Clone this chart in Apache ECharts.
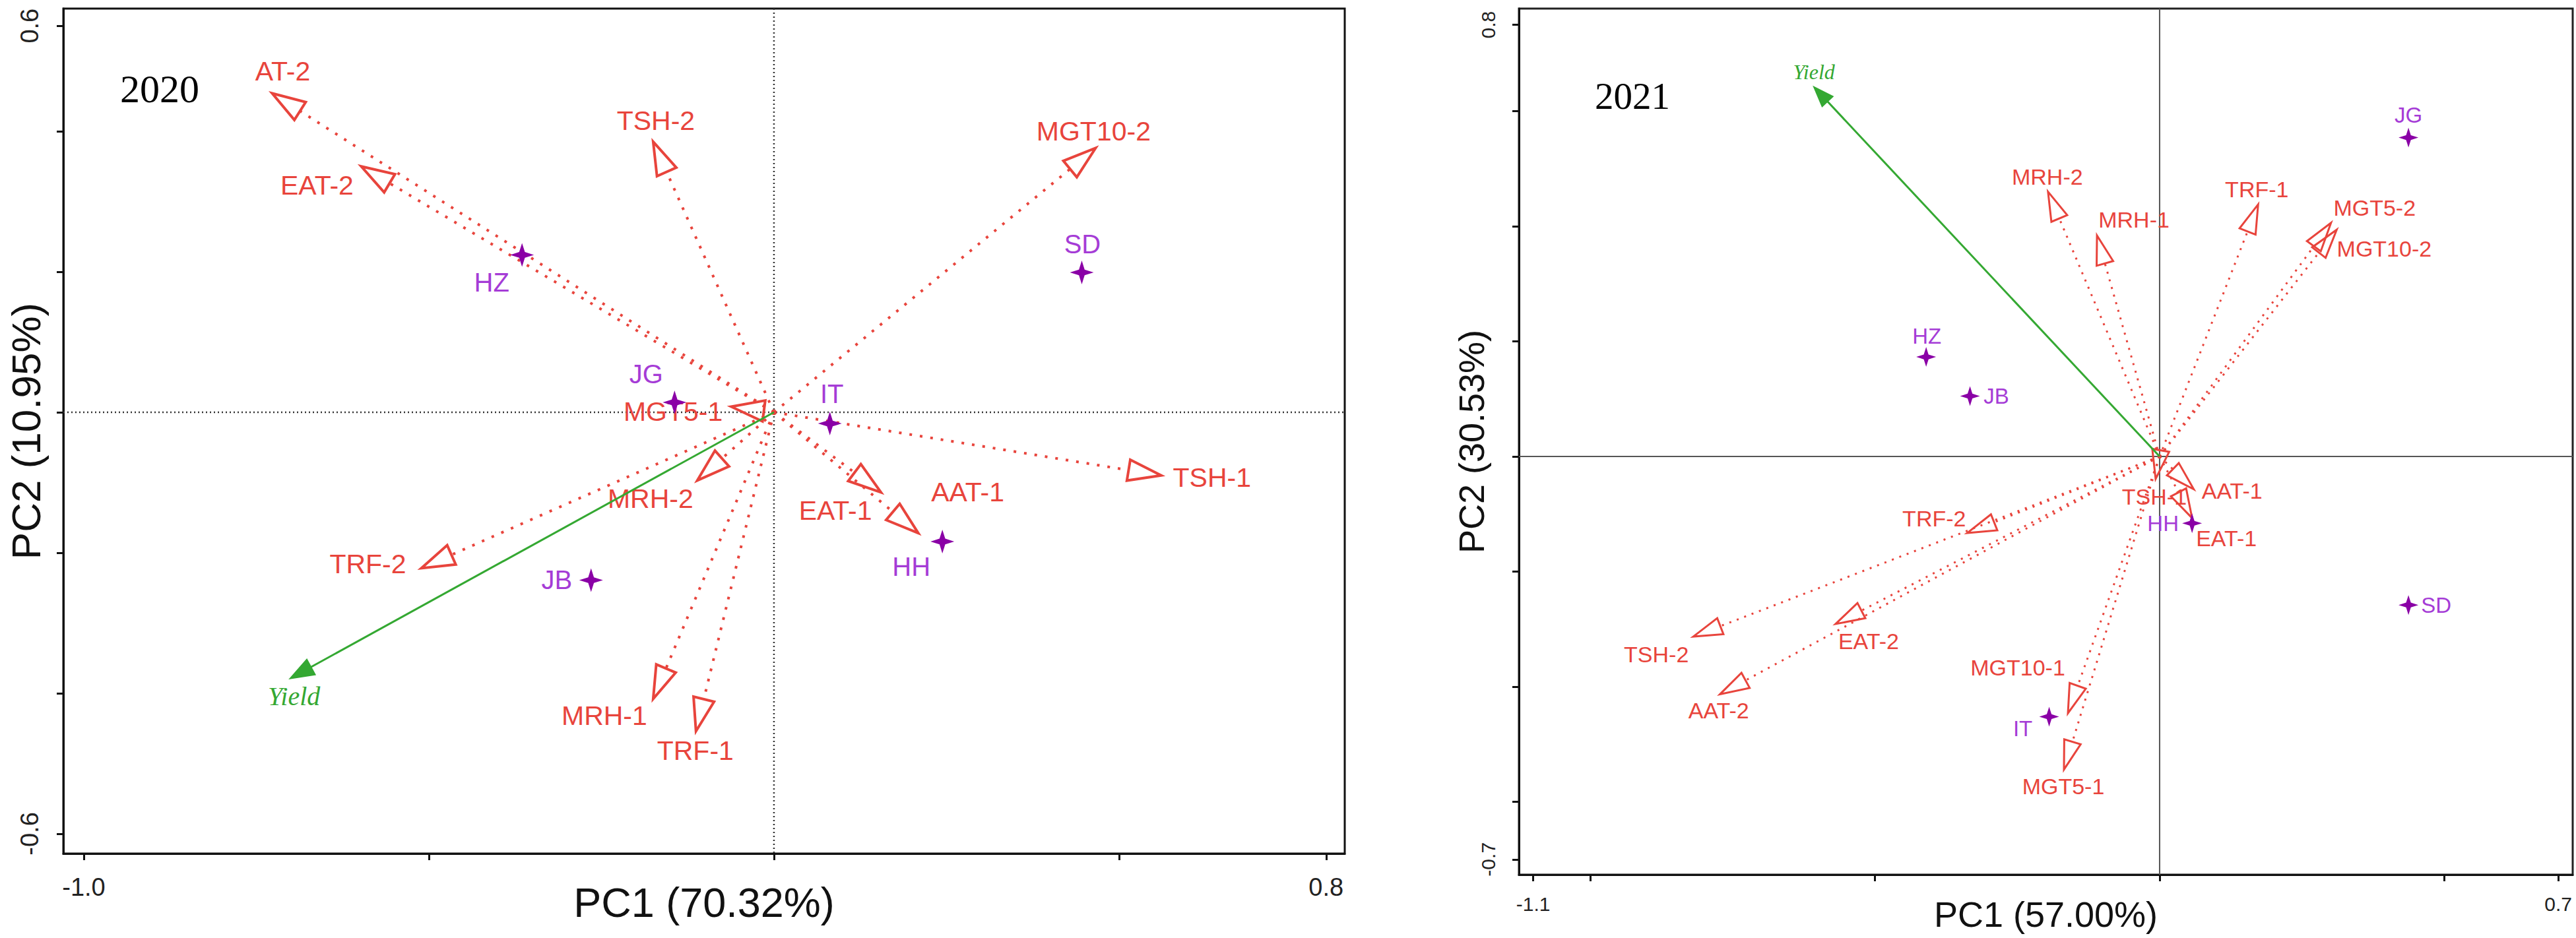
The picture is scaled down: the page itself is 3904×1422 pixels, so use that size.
<!DOCTYPE html>
<html>
<head>
<meta charset="utf-8">
<script src="https://cdn.jsdelivr.net/npm/echarts@6/dist/echarts.min.js"></script>
<style>
html, body { margin: 0; background: #fff; }
#pca { width: 3904px; height: 1422px; }
</style>
</head>
<body>
<div id="pca"></div>
<script>
// 2020 biplot
var vars2020 = ['AT-2', 'EAT-2', 'TSH-2', 'MGT10-2', 'MGT5-1', 'MRH-2', 'TRF-2', 'MRH-1', 'TRF-1', 'EAT-1', 'AAT-1', 'TSH-1'];
var pc1Vars2020 = [-0.727, -0.598, -0.175, 0.466, -0.062, -0.111, -0.511, -0.175, -0.113, 0.155, 0.209, 0.561];
var pc2Vars2020 = [0.454, 0.350, 0.385, 0.376, 0.008, -0.097, -0.222, -0.408, -0.454, -0.114, -0.172, -0.090];
var sites2020 = ['HZ', 'JG', 'IT', 'SD', 'HH', 'JB'];
var pc1Sites2020 = [-0.365, -0.144, 0.081, 0.446, 0.244, -0.265];
var pc2Sites2020 = [0.224, 0.014, -0.016, 0.199, -0.184, -0.239];
var yield2020 = [-0.701, -0.379];
var xTicks2020 = [-1.0, -0.5, 0, 0.5, 0.8];
var xLabels2020 = [-1.0, 0.8];
var yTicks2020 = [-0.6, -0.4, -0.2, 0, 0.2, 0.4, 0.55];
var yLabels2020 = [-0.6, 0.55];

// 2021 biplot
var vars2021 = ['MRH-2', 'MRH-1', 'TRF-1', 'MGT5-2', 'MGT10-2', 'TRF-2', 'TSH-2', 'EAT-2', 'AAT-2', 'AAT-1', 'TSH-1', 'EAT-1', 'MGT10-1', 'MGT5-1'];
var pc1Vars2021 = [-0.196, -0.110, 0.173, 0.301, 0.311, -0.338, -0.819, -0.569, -0.772, 0.060, -0.007, 0.057, -0.161, -0.168];
var pc2Vars2021 = [0.460, 0.384, 0.438, 0.406, 0.394, -0.133, -0.313, -0.291, -0.413, -0.057, -0.039, -0.107, -0.446, -0.544];
var sites2021 = ['JG', 'HZ', 'JB', 'HH', 'SD', 'IT'];
var pc1Sites2021 = [0.437, -0.410, -0.333, 0.057, 0.437, -0.194];
var pc2Sites2021 = [0.554, 0.173, 0.105, -0.116, -0.258, -0.452];
var yield2021 = [-0.607, 0.642];
var xTicks2021 = [-1.1, -1.0, -0.5, 0, 0.5, 0.7];
var xLabels2021 = [-1.1, 0.7];
var yTicks2021 = [-0.7, -0.6, -0.4, -0.2, 0, 0.2, 0.4, 0.6, 0.75];
var yLabels2021 = [-0.7, 0.75];

// label placement (pixel offsets from the arrow tip / point)
var lab2020 = {
    'AT-2': [16, -33], 'EAT-2': [-67, 29], 'TSH-2': [4, -32], 'MGT10-2': [-3, -26],
    'MGT5-1': [-88, 8], 'MRH-2': [-71, 28], 'TRF-2': [-81, -6], 'MRH-1': [-74, 26],
    'TRF-1': [-1, 30], 'EAT-1': [-69, 28], 'AAT-1': [75, -62], 'TSH-1': [77, 3], 'Yield': [6, 27],
    'HZ': [-46, 42], 'JG': [-43, -43], 'IT': [3, -45], 'SD': [1, -43], 'HH': [-47, 38], 'JB': [-52, 0]
};
var lab2021 = {
    'MRH-2': [-1, -23], 'MRH-1': [56, -24], 'TRF-1': [-2, -23], 'MGT5-2': [66, -23],
    'MGT10-2': [72, 29], 'TRF-2': [-50, -22], 'TSH-2': [-56, 27], 'EAT-2': [50, 26],
    'AAT-2': [-2, 25], 'AAT-1': [58, 2], 'TSH-1': [-2, 27], 'EAT-1': [52, 31],
    'MGT10-1': [-76, -69], 'MGT5-1': [-1, 25], 'Yield': [0, -23],
    'JG': [0, -34], 'HZ': [1, -32], 'JB': [40, 0], 'HH': [-44, 0], 'SD': [42, 0], 'IT': [-40, 18]
};

var RED = '#e8443c', PURPLE = '#8a00a6', PURPLE_TXT = '#a53cd6', GREEN = '#34a832';
var SANS = '"Liberation Sans", Arial, sans-serif';
var SERIF = '"Liberation Serif", "Times New Roman", serif';
var STAR = 'path://M0,-10 L2.4,-2.4 L10,0 L2.4,2.4 L0,10 L-2.4,2.4 L-10,0 L-2.4,-2.4 Z';

var fmt = function (v) { return Number(v).toFixed(1); };

// dotted vectors from the origin with a triangle head and a text label
function arrowSeries(gi, names, xs, ys, lab, cfg) {
    return {
        type: 'custom',
        xAxisIndex: gi,
        yAxisIndex: gi,
        z: 3,
        silent: true,
        data: names.map(function (n, i) { return [xs[i], ys[i]]; }),
        renderItem: function (params, api) {
            var o = api.coord([0, 0]);
            var p = api.coord([api.value(0), api.value(1)]);
            var dx = p[0] - o[0], dy = p[1] - o[1];
            var len = Math.sqrt(dx * dx + dy * dy) || 1;
            var ux = dx / len, uy = dy / len;
            var bx = p[0] - ux * cfg.head, by = p[1] - uy * cfg.head;
            var name = names[params.dataIndex];
            var off = lab[name] || [0, 0];
            return {
                type: 'group',
                children: [{
                    type: 'line',
                    shape: { x1: o[0], y1: o[1], x2: bx, y2: by },
                    style: { stroke: cfg.color, lineWidth: cfg.lw, lineDash: cfg.dash }
                }, {
                    type: 'polygon',
                    shape: { points: [[p[0], p[1]], [bx - uy * cfg.half, by + ux * cfg.half], [bx + uy * cfg.half, by - ux * cfg.half]] },
                    style: { stroke: cfg.color, fill: cfg.fill, lineWidth: cfg.headLw }
                }, {
                    type: 'text',
                    x: p[0] + off[0],
                    y: p[1] + off[1],
                    style: {
                        text: name, fill: cfg.textColor, fontSize: cfg.fontSize, fontFamily: cfg.font,
                        fontStyle: cfg.fontStyle || 'normal', align: 'center', verticalAlign: 'middle'
                    }
                }]
            };
        }
    };
}

function siteSeries(gi, names, xs, ys, lab, size, fontSize) {
    return {
        type: 'scatter',
        xAxisIndex: gi,
        yAxisIndex: gi,
        z: 4,
        silent: true,
        symbol: STAR,
        symbolSize: size,
        itemStyle: { color: PURPLE, opacity: 1 },
        label: { show: true, position: 'inside', formatter: '{b}', color: PURPLE_TXT, fontSize: fontSize, fontFamily: SANS },
        data: names.map(function (n, i) {
            return { name: n, value: [xs[i], ys[i]], label: { offset: lab[n] } };
        })
    };
}

function zeroSeries(gi, style) {
    return {
        type: 'custom',
        xAxisIndex: gi,
        yAxisIndex: gi,
        z: 1,
        silent: true,
        data: [[0, 0]],
        renderItem: function (params, api) {
            var cs = params.coordSys;
            var o = api.coord([0, 0]);
            return {
                type: 'group',
                children: [{
                    type: 'line',
                    shape: { x1: cs.x, y1: o[1], x2: cs.x + cs.width, y2: o[1] },
                    style: Object.assign({}, style)
                }, {
                    type: 'line',
                    shape: { x1: o[0], y1: cs.y, x2: o[0], y2: cs.y + cs.height },
                    style: Object.assign({}, style)
                }]
            };
        }
    };
}

function axis(gi, min, max, ticks, labels, name, o) {
    return {
        gridIndex: gi,
        type: 'value',
        min: min,
        max: max,
        splitLine: { show: false },
        axisLine: { show: true, onZero: false, lineStyle: { color: '#111', width: 3 } },
        axisTick: { show: true, customValues: ticks, length: 10, lineStyle: { color: '#111', width: 3 } },
        axisLabel: {
            show: true, customValues: labels, formatter: fmt, margin: o.margin, rotate: o.rotate || 0,
            fontSize: o.labSize, color: '#222', fontFamily: SANS
        },
        name: name,
        nameLocation: 'middle',
        nameGap: o.gap,
        nameMoveOverlap: false,
        nameTextStyle: { fontSize: o.nameSize, color: '#111', fontFamily: SANS }
    };
}

var chart = echarts.init(document.getElementById('pca'), null, { renderer: 'svg' });
chart.setOption({
    animation: false,
    backgroundColor: '#fff',
    grid: [
        { left: 96, top: 13, width: 1942, height: 1281, outerBoundsMode: 'none', containLabel: false,
          show: true, borderColor: '#111', borderWidth: 3 },
        { left: 2302, top: 13, width: 1597, height: 1313, outerBoundsMode: 'none', containLabel: false,
          show: true, borderColor: '#222', borderWidth: 3 }
    ],
    xAxis: [
        axis(0, -1.0296, 0.827, xTicks2020, xLabels2020, 'PC1 (70.32%)', { margin: 32, labSize: 38, gap: 42, nameSize: 63 }),
        axis(1, -1.1251, 0.7254, xTicks2021, xLabels2021, 'PC1 (57.00%)', { margin: 29, labSize: 30, gap: 33, nameSize: 54 })
    ],
    yAxis: [
        axis(0, -0.6282, 0.5746, yTicks2020, yLabels2020, 'PC2 (10.95%)', { margin: 32, labSize: 38, gap: 26, nameSize: 62, rotate: 90 }),
        axis(1, -0.7266, 0.7782, yTicks2021, yLabels2021, 'PC2 (30.53%)', { margin: 32, labSize: 30, gap: 45, nameSize: 54, rotate: 90 })
    ],
    graphic: [
        { type: 'text', x: 242, y: 135, style: { text: '2020', fontSize: 60, fontFamily: SERIF, fill: '#000', align: 'center', verticalAlign: 'middle' } },
        { type: 'text', x: 2474, y: 145, style: { text: '2021', fontSize: 57, fontFamily: SERIF, fill: '#000', align: 'center', verticalAlign: 'middle' } }
    ],
    series: [
        zeroSeries(0, { stroke: '#333', lineWidth: 2.5, lineDash: [2, 4] }),
        arrowSeries(0, vars2020, pc1Vars2020, pc2Vars2020, lab2020, {
            color: RED, lw: 4, dash: [4, 12], head: 50, half: 16, headLw: 4, fill: 'none',
            textColor: RED, fontSize: 41, font: SANS
        }),
        arrowSeries(0, ['Yield'], [yield2020[0]], [yield2020[1]], lab2020, {
            color: GREEN, lw: 3, dash: null, head: 36, half: 13, headLw: 2, fill: GREEN,
            textColor: GREEN, fontSize: 40, font: SERIF, fontStyle: 'italic'
        }),
        siteSeries(0, sites2020, pc1Sites2020, pc2Sites2020, lab2020, 36, 40),

        zeroSeries(1, { stroke: '#555', lineWidth: 2 }),
        arrowSeries(1, vars2021, pc1Vars2021, pc2Vars2021, lab2021, {
            color: RED, lw: 3, dash: [3, 9], head: 44, half: 13, headLw: 3, fill: 'none',
            textColor: RED, fontSize: 34, font: SANS
        }),
        arrowSeries(1, ['Yield'], [yield2021[0]], [yield2021[1]], lab2021, {
            color: GREEN, lw: 3, dash: null, head: 30, half: 11, headLw: 2, fill: GREEN,
            textColor: GREEN, fontSize: 32, font: SERIF, fontStyle: 'italic'
        }),
        siteSeries(1, sites2021, pc1Sites2021, pc2Sites2021, lab2021, 30, 33)
    ]
});
window.onresize = chart.resize;
</script>
</body>
</html>
